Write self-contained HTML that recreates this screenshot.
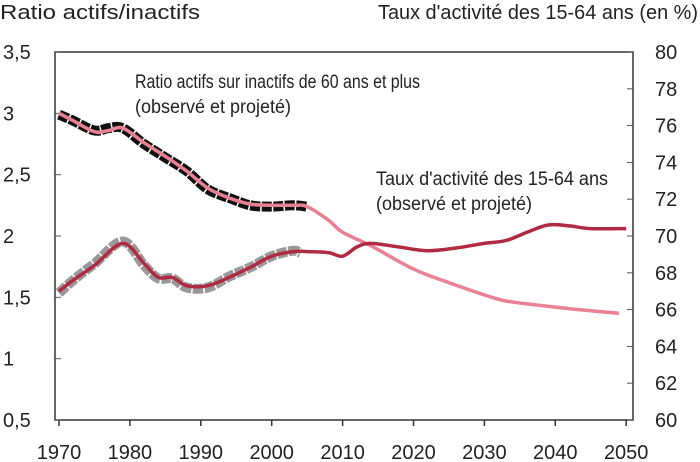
<!DOCTYPE html>
<html><head><meta charset="utf-8"><style>
html,body{margin:0;padding:0;background:#fff;width:700px;height:462px;overflow:hidden}
svg text{font-family:"Liberation Sans",sans-serif;fill:#222}
</style></head><body>
<svg id="chart" width="700" height="462" viewBox="0 0 700 462" xmlns="http://www.w3.org/2000/svg">
<text x="0" y="19" font-size="20" textLength="200" lengthAdjust="spacingAndGlyphs">Ratio actifs/inactifs</text>
<text x="378" y="19" font-size="20" textLength="320" lengthAdjust="spacingAndGlyphs">Taux d'activité des 15-64 ans (en %)</text>
<g id="axes"></g>
<g id="series"></g>
<text x="135" y="88" font-size="19" textLength="285" lengthAdjust="spacingAndGlyphs">Ratio actifs sur inactifs de 60 ans et plus</text>
<text x="135" y="113" font-size="19" textLength="156" lengthAdjust="spacingAndGlyphs">(observé et projeté)</text>
<text x="376" y="185" font-size="19" textLength="232" lengthAdjust="spacingAndGlyphs">Taux d'activité des 15-64 ans</text>
<text x="376" y="210" font-size="19" textLength="156" lengthAdjust="spacingAndGlyphs">(observé et projeté)</text>
</svg>
<script>
const ratioYears=[1970,1972,1975,1977,1979,1982,1985,1988,1991,1994,1997,2000,2003,2005,2008,2010,2014,2020,2025,2030,2033,2037,2040,2045,2049];
const ratioValues=[3.0,2.94,2.85,2.86,2.88,2.76,2.65,2.53,2.39,2.31,2.26,2.25,2.25,2.24,2.13,2.03,1.92,1.73,1.62,1.52,1.47,1.44,1.42,1.39,1.37];
const ratioObsYears=[1970,1972,1975,1977,1979,1982,1985,1988,1991,1994,1997,2000,2003,2005];
const ratioObsValues=[2.99,2.94,2.86,2.88,2.88,2.75,2.64,2.53,2.38,2.31,2.25,2.24,2.25,2.24];
const tauxYears=[1970,1972,1975,1979,1982,1984,1986,1988,1991,1994,1997,2000,2003,2005,2008,2010,2012,2014,2018,2022,2026,2030,2033,2036,2039,2042,2045,2050];
const tauxValues=[67.0,67.6,68.4,69.6,68.5,67.75,67.75,67.3,67.3,67.75,68.3,68.9,69.15,69.15,69.1,68.9,69.4,69.6,69.4,69.2,69.35,69.6,69.75,70.2,70.6,70.55,70.4,70.4];
const tauxObsYears=[1970,1972,1975,1979,1982,1984,1986,1988,1991,1994,1997,2000,2003,2004];
const tauxObsValues=[66.9,67.6,68.5,69.7,68.4,67.7,67.7,67.2,67.2,67.8,68.3,68.9,69.2,69.1];
const xTicks=[1970,1980,1990,2000,2010,2020,2030,2040,2050];
const leftTicks=[0.5,1,1.5,2,2.5,3,3.5];
const leftLabels=["0,5","1","1,5","2","2,5","3","3,5"];
const rightTicks=[60,62,64,66,68,70,72,74,76,78,80];

const NS="http://www.w3.org/2000/svg";
const X0=55,X1=633,YT=52,YB=420;
const xs=y=>59+(y-1970)*7.09;
const yl=v=>YB-(v-0.5)/3*(YB-YT);
const yr=v=>YB-(v-60)/20*(YB-YT);
function mk(tag,attrs,parent){const e=document.createElementNS(NS,tag);for(const k in attrs)e.setAttribute(k,attrs[k]);parent.appendChild(e);return e;}
const axes=document.getElementById('axes'),ser=document.getElementById('series');
let f=mk('rect',{x:X0,y:YT,width:X1-X0,height:YB-YT,fill:'none',stroke:'#333','stroke-width':1.5},axes);


xTicks.forEach(t=>{
  const x=xs(t);
  let l=mk('line',{x1:x,x2:x,y1:YB,y2:YB+6,stroke:'#333','stroke-width':1.5},axes);
  
  
  let tx=mk('text',{x:x,y:459,'font-size':20,'text-anchor':'middle'},axes);
  tx.textContent=t;
  
  
});
leftTicks.forEach((t,i)=>{
  const y=yl(t);
  let l=mk('line',{x1:X0,x2:X0+6,y1:y,y2:y,stroke:'#555','stroke-width':1},axes);
  
  
  let tx=mk('text',{x:3,y:y+7,'font-size':20},axes);
  tx.textContent=leftLabels[i];
  
  
});
rightTicks.forEach(t=>{
  const y=yr(t);
  let l=mk('line',{x1:X1-6,x2:X1,y1:y,y2:y,stroke:'#555','stroke-width':1},axes);
  
  
  let tx=mk('text',{x:655,y:y+7,'font-size':20},axes);
  tx.textContent=t;
  
  
});
function path(years,vals,sc){
  const p=years.map((y,i)=>[xs(y),sc(vals[i])]);
  let d='M'+p[0][0].toFixed(1)+' '+p[0][1].toFixed(1);
  for(let i=0;i<p.length-1;i++){
    const a=p[Math.max(0,i-1)],b=p[i],c=p[i+1],e=p[Math.min(p.length-1,i+2)];
    const c1=[b[0]+(c[0]-a[0])/6,b[1]+(c[1]-a[1])/6],c2=[c[0]-(e[0]-b[0])/6,c[1]-(e[1]-b[1])/6];
    d+=' C'+c1.map(v=>v.toFixed(1)).join(' ')+' '+c2.map(v=>v.toFixed(1)).join(' ')+' '+c[0].toFixed(1)+' '+c[1].toFixed(1);
  }
  return d;
}
let p1=mk('path',{d:path(ratioObsYears,ratioObsValues,yl),fill:'none',stroke:'#111','stroke-width':10,'stroke-dasharray':'10 1.5','stroke-linejoin':'round'},ser);


let p2=mk('path',{d:path(tauxObsYears,tauxObsValues,yr),fill:'none',stroke:'#999','stroke-width':10,'stroke-dasharray':'10 1.5','stroke-linejoin':'round'},ser);


let p3=mk('path',{d:path(ratioYears,ratioValues,yl),fill:'none',stroke:'#e98093','stroke-width':3.5,'stroke-linejoin':'round'},ser);


let p4=mk('path',{d:path(tauxYears,tauxValues,yr),fill:'none',stroke:'#b02a42','stroke-width':3.5,'stroke-linejoin':'round'},ser);


</script>
</body></html>
